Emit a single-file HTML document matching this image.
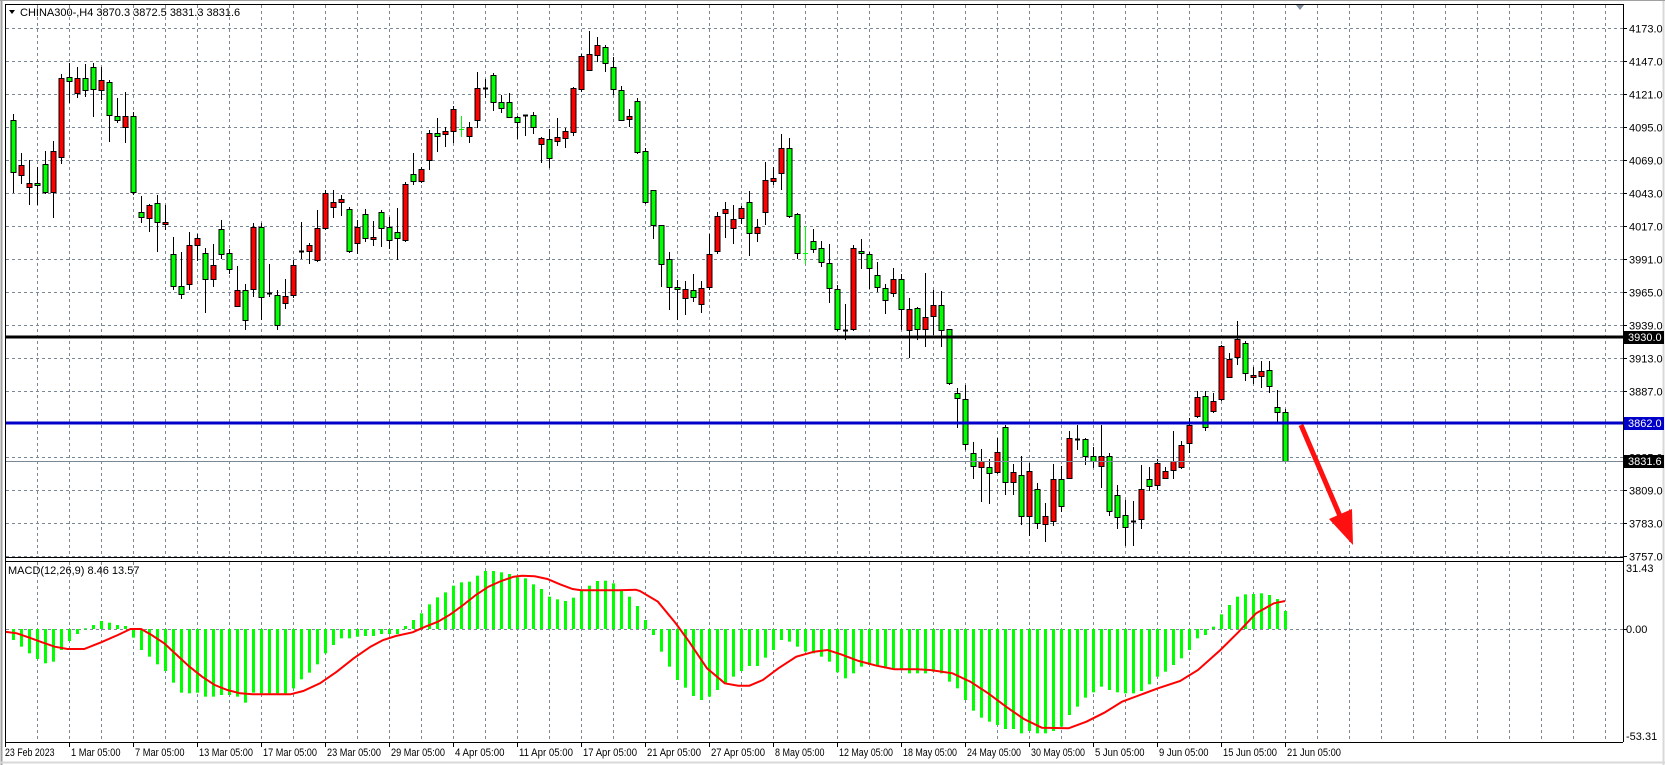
<!DOCTYPE html>
<html><head><meta charset="utf-8">
<style>
html,body{margin:0;padding:0;background:#fff;width:1665px;height:765px;overflow:hidden}
svg{display:block}
text{font-family:"Liberation Sans",sans-serif;font-size:11px}
</style></head>
<body>
<svg id="s" width="1665" height="765" xmlns="http://www.w3.org/2000/svg">
<rect x="0" y="0" width="1665" height="765" fill="#fff"/>
<g id="grid"></g>
<g id="cd"></g>
<g id="mc"></g>
<g id="ax"></g>
</svg>
<script>
var NS="http://www.w3.org/2000/svg";
function el(p,t,a,txt){var e=document.createElementNS(NS,t);for(var k in a)e.setAttribute(k,a[k]);if(txt!=null)e.textContent=txt;p.appendChild(e);return e;}
var grid=document.getElementById('grid'),cd=document.getElementById('cd'),mc=document.getElementById('mc'),ax=document.getElementById('ax');
var GC="#7a8796";
for(var x=37;x<1623;x+=32){
 el(grid,'line',{x1:x+.5,y1:5,x2:x+.5,y2:556,stroke:GC,'stroke-dasharray':'3,3'});
 el(grid,'line',{x1:x+.5,y1:562,x2:x+.5,y2:742,stroke:GC,'stroke-dasharray':'3,3'});
}
var prices=[4173,4147,4121,4095,4069,4043,4017,3991,3965,3939,3913,3887,3862,3835,3809,3783,3757];
function py(p){return 28+(4173-p)*1.2692;}
prices.forEach(function(p){var y=Math.round(py(p))+.5;
 el(grid,'line',{x1:6,y1:y,x2:1623,y2:y,stroke:GC,'stroke-dasharray':'3,3'});
 el(ax,'line',{x1:1623,y1:y,x2:1627,y2:y,stroke:'#000'});
 el(ax,'text',{x:1629,y:y+4},p.toFixed(1));
});
el(grid,'line',{x1:6,y1:629.5,x2:1623,y2:629.5,stroke:GC,'stroke-dasharray':'3,3'});
var C=[
"g 112 114 105 138","g 120 172 114 193","r 165 175 153 184","r 183 187 160 205","g 183 185 167 205","g 164 192 151 194","r 151 192 141 218","r 78 157 74 164","g 77 81 63 103","r 78 93 67 98",
"g 78 90 64 97","g 67 89 63 117","r 80 90 67 100","g 82 115 80 142","g 116 120 98 123","r 116 127 92 143","g 116 192 112 195","g 212 217 196 223","r 205 218 204 232","g 203 222 195 252",
"r 222 224 205 230","g 254 286 237 290","g 286 294 252 299","r 245 284 232 290","r 238 245 234 261","g 253 279 248 313","r 265 279 244 287","g 229 254 220 259","g 253 269 249 274","r 290 306 266 306",
"g 290 320 284 330","r 227 289 223 297","g 227 297 223 320","d 293 293 264 297","g 295 325 290 330","r 296 303 279 309","r 265 295 260 298","d 251 251 222 259","r 245 251 243 264","r 228 260 210 262",
"r 193 228 190 230","r 202 207 190 218","r 199 202 195 216","g 209 251 207 253","r 227 243 220 254","g 214 238 209 242","r 237 239 221 246","g 212 228 210 247","g 227 240 217 249","g 232 238 208 260",
"r 184 240 182 242","g 174 181 153 185","r 169 181 167 183","r 133 160 130 170","g 133 136 118 152","r 131 134 127 147","r 109 131 106 143","l 129 129 116 137","r 127 136 122 143","r 88 120 72 128",
"d 88 88 79 98","g 75 102 73 111","g 102 108 95 113","g 102 117 93 118","g 117 122 116 139","d 115 115 115 136","g 115 127 112 134","r 138 144 137 163","g 139 158 129 168","r 137 141 118 146",
"r 131 138 128 148","r 88 132 87 136","r 56 89 54 92","r 54 70 31 70","r 45 55 37 62","g 47 63 45 72","g 67 89 57 95","g 90 120 86 121","r 116 119 109 127","g 101 152 98 154",
"g 151 202 148 204","g 190 225 190 239","g 225 264 225 287","g 259 287 252 310","g 287 289 280 320","r 289 298 281 315","g 290 297 274 302","r 288 304 281 313","r 254 287 234 290","r 216 251 212 254",
"r 209 213 202 238","r 219 228 205 244","r 208 218 206 224","g 202 233 191 256","r 227 233 219 242","r 180 212 162 225","r 178 181 167 185","r 148 173 134 190","g 148 216 138 218","g 214 253 213 259",
"l 253 253 226 264","g 241 249 229 253","g 248 262 241 267","g 263 288 244 303","g 289 329 285 331","d 330 330 304 340","r 248 329 245 331","g 251 253 239 269","g 254 268 252 289","g 275 287 262 292",
"g 288 300 284 314","r 279 293 268 297","g 279 309 274 330","r 309 330 298 358","g 308 329 307 340","r 317 329 273 347","r 305 316 290 335","g 305 330 291 347","g 329 383 329 385","g 393 398 388 428",
"g 399 444 385 450","g 453 466 442 479","r 461 467 449 502","g 467 473 459 504","r 452 472 438 474","g 427 482 425 495","r 472 482 464 495","g 475 516 456 525","r 471 516 463 536","g 489 523 483 529",
"r 516 524 503 542","r 479 521 464 526","g 479 506 466 512","r 438 478 431 478","d 439 439 425 450","g 439 456 438 465","g 456 461 447 468","r 456 466 425 488","g 456 511 453 516","g 495 517 485 529",
"g 515 527 500 546","d 521 521 501 546","r 489 519 465 529","g 479 486 467 491","r 463 485 459 490","r 471 478 467 479","r 461 470 431 479","r 445 467 441 469","r 425 443 418 453","r 397 416 391 418",
"g 396 427 391 431","r 401 411 393 413","r 346 399 345 401","r 359 377 353 377","r 339 357 321 365","g 343 373 341 381","r 375 377 367 384","r 371 376 361 388","g 370 386 361 393","g 407 412 390 422",
"g 412 461 409 462"];
C.forEach(function(s,i){var a=s.split(' '),t=a[0],bt=+a[1],bb=+a[2],wt=+a[3],wb=+a[4];var x=5+8*i;
 if(x<6)return;
 if(t=='l'){el(cd,'line',{x1:x+.5,y1:wt,x2:x+.5,y2:wb,stroke:'#00ff00'});el(cd,'line',{x1:x-2,y1:bt+.5,x2:x+3,y2:bt+.5,stroke:'#00ff00'});return;}
 el(cd,'line',{x1:x+.5,y1:wt,x2:x+.5,y2:wb,stroke:'#000'});
 if(t=='d'){el(cd,'line',{x1:x-2,y1:bt+.5,x2:x+3,y2:bt+.5,stroke:'#000','stroke-width':2});return;}
 var h=Math.max(bb-bt,2);
 el(cd,'rect',{x:x-2,y:bt+.5,width:5,height:h,fill:t=='r'?'#ff0000':'#00ff00',stroke:'#000','stroke-width':1});
});
el(cd,'line',{x1:6,y1:337,x2:1623,y2:337,stroke:'#000','stroke-width':3});
el(cd,'line',{x1:6,y1:423,x2:1623,y2:423,stroke:'#0000c8','stroke-width':3});
el(cd,'line',{x1:6,y1:461.5,x2:1623,y2:461.5,stroke:'#7a8796'});
el(cd,'line',{x1:1301,y1:425,x2:1343,y2:523,stroke:'#ff1010','stroke-width':5});
el(cd,'polygon',{points:'1329,519 1353,545 1352,509',fill:'#ff1010'});
var z1=[235,255,275,295,312,325,320,285,258,237,220,210,198,203,210,213,248,285,305,328,348,383,413,415,413,425,425,420,420,425,443,413,415,415,415,415,400,373,353,328,295,270,250,250,245,243,243,237,237,237,213,195,175,148,127,112,92,82,80,62,48,48,52,57,67,70,88,102,125,133,138,128,107,92,78,77,85,107,125,153,195,240];
var z2=[290,335,375,398,423,435,425,405,385,365,348,333,333,308,285,255,260,275,290,295,305,320,352,370,355,335,330,330,340,340,345,355,355,355,350,355,380,400,435,467,488,500,510,522,522,535,528,535,535,528,515,480,455,428,412,395,405,412,415,415,408,388,365,350,330,310,285,250,240,215,178,150,125,118,117,115,120,132,168];
var H=z1.concat(z2);
H.forEach(function(zy,i){var x=5+8*i;if(x<6)return;var y=555+zy/3;var t=Math.min(y,629),b=Math.max(y,629);
 el(mc,'rect',{x:x-1,y:t,width:3,height:Math.max(b-t,1),fill:'#00ff00'});});
var s1=[[12,230],[40,235],[70,248],[100,262],[130,275],[160,282],[200,282],[240,262],[280,240],[310,222],[335,222],[360,240],[390,265],[420,300],[450,335],[480,365],[510,390],[540,405],[570,415],[600,418],[690,418],[720,408],[760,385],[800,350],[840,310],[880,275],[910,255],[940,243],[980,232],[1010,215],[1040,200],[1070,178],[1100,150],[1130,120],[1160,95],[1190,78],[1220,65],[1240,62],[1270,64],[1300,72],[1330,88],[1360,102],[1380,106],[1470,106],[1510,104]];
var s2=[[0,108],[40,140],[80,205],[110,260],[150,340],[190,385],[220,392],[245,392],[275,375],[310,340],[350,305],[390,290],[420,285],[450,298],[490,318],[530,332],[570,343],[620,343],[650,345],[700,355],[740,380],[780,415],[820,455],[860,492],[900,518],[960,520],[1000,500],[1040,473],[1080,440],[1120,420],[1160,400],[1210,378],[1250,345],[1300,285],[1340,232],[1380,175],[1420,145],[1445,138]];
var pts=[];s1.forEach(function(p){pts.push((p[0]/2.375).toFixed(1)+','+(555+p[1]/3).toFixed(1));});
s2.forEach(function(p){pts.push((640+p[0]/2.24).toFixed(1)+','+(555+p[1]/3).toFixed(1));});
el(mc,'polyline',{points:pts.join(' '),fill:'none',stroke:'#ff0000','stroke-width':2});
el(ax,'line',{x1:5.5,y1:4,x2:5.5,y2:742,stroke:'#000'});
el(ax,'line',{x1:5,y1:4.5,x2:1623,y2:4.5,stroke:'#000'});
el(ax,'line',{x1:1623.5,y1:4,x2:1623.5,y2:742,stroke:'#000'});
el(ax,'line',{x1:5,y1:557.5,x2:1623,y2:557.5,stroke:'#000'});
el(ax,'line',{x1:5,y1:561.5,x2:1623,y2:561.5,stroke:'#000'});
el(ax,'line',{x1:5,y1:742.5,x2:1623,y2:742.5,stroke:'#000'});
el(ax,'line',{x1:1.5,y1:0,x2:1.5,y2:765,stroke:'#a0a0a0','stroke-width':2});
el(ax,'line',{x1:0,y1:762.5,x2:1665,y2:762.5,stroke:'#d8d8d8','stroke-width':2});
el(ax,'line',{x1:1663.5,y1:0,x2:1663.5,y2:765,stroke:'#d8d8d8','stroke-width':2});
el(ax,'line',{x1:0,y1:0.5,x2:1665,y2:0.5,stroke:'#a0a0a0'});
el(ax,'line',{x1:1623,y1:629.5,x2:1627,y2:629.5,stroke:'#000'});
el(ax,'text',{x:1626,y:572},'31.43');
el(ax,'text',{x:1626,y:633},'0.00');
el(ax,'text',{x:1626,y:740},'-53.31');
function box(y,txt,bg){el(ax,'rect',{x:1624,y:y-6,width:40,height:13,fill:bg});el(ax,'text',{x:1628,y:y+4,fill:'#fff'},txt);}
box(337,'3930.0','#000');box(423,'3862.0','#0000c8');box(461,'3831.6','#000');
var T=['23 Feb 2023','1 Mar 05:00','7 Mar 05:00','13 Mar 05:00','17 Mar 05:00','23 Mar 05:00','29 Mar 05:00','4 Apr 05:00','11 Apr 05:00','17 Apr 05:00','21 Apr 05:00','27 Apr 05:00','8 May 05:00','12 May 05:00','18 May 05:00','24 May 05:00','30 May 05:00','5 Jun 05:00','9 Jun 05:00','15 Jun 05:00','21 Jun 05:00'];
T.forEach(function(t,k){var x=5+64*k;el(ax,'line',{x1:x+.5,y1:742,x2:x+.5,y2:747,stroke:'#000'});
 el(ax,'text',{x:x+(k==0?0:2),y:756,textLength:(t.length*4.5).toFixed(1),lengthAdjust:'spacingAndGlyphs'},t);});
el(ax,'polygon',{points:'9,10 15,10 12,14',fill:'#000'});
el(ax,'text',{x:20,y:16},'CHINA300-,H4  3870.3 3872.5 3831.3 3831.6');
el(ax,'text',{x:8,y:574},'MACD(12,26,9) 8.46 13.57');
el(ax,'polygon',{points:'1296,5 1304,5 1300,10',fill:'#8090a0'});
</script>
</body></html>
